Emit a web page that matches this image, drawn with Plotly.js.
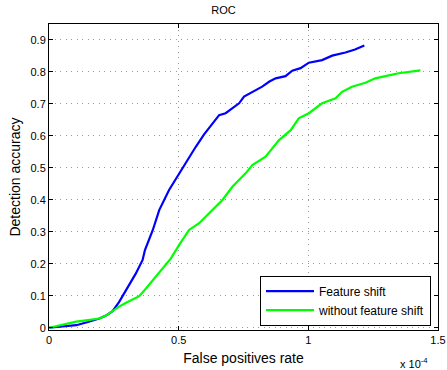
<!DOCTYPE html>
<html><head><meta charset="utf-8">
<script src="https://cdn.plot.ly/plotly-3.0.1.min.js"></script>
<style>html,body{margin:0;padding:0;background:#fff}#plot{width:447px;height:370px}</style>
</head><body><div id="plot"></div>
<script>
// False positives rate in units of 1e-4
const featureShiftFpr = [0, 0.05, 0.105, 0.15, 0.194, 0.22, 0.245, 0.27, 0.297, 0.315, 0.335, 0.361, 0.37, 0.40, 0.425, 0.463, 0.502, 0.540, 0.566, 0.598, 0.630, 0.656, 0.681, 0.707, 0.733, 0.752, 0.790, 0.822, 0.850, 0.874, 0.912, 0.938, 0.970, 1.002, 1.053, 1.092, 1.143, 1.180, 1.216];
const featureShiftTpr = [0, 0.004, 0.008, 0.018, 0.029, 0.038, 0.052, 0.080, 0.118, 0.142, 0.170, 0.212, 0.243, 0.305, 0.368, 0.431, 0.483, 0.535, 0.566, 0.605, 0.639, 0.665, 0.671, 0.686, 0.702, 0.723, 0.740, 0.754, 0.770, 0.780, 0.787, 0.804, 0.812, 0.829, 0.837, 0.851, 0.861, 0.870, 0.883];
const noShiftFpr = [0, 0.05, 0.105, 0.15, 0.194, 0.22, 0.245, 0.27, 0.297, 0.325, 0.348, 0.374, 0.412, 0.451, 0.47, 0.502, 0.540, 0.579, 0.630, 0.668, 0.707, 0.758, 0.784, 0.835, 0.887, 0.932, 0.963, 1.002, 1.053, 1.105, 1.130, 1.168, 1.220, 1.258, 1.297, 1.348, 1.432];
const noShiftTpr = [0, 0.010, 0.019, 0.024, 0.029, 0.038, 0.052, 0.066, 0.078, 0.090, 0.099, 0.123, 0.160, 0.196, 0.217, 0.259, 0.306, 0.327, 0.368, 0.399, 0.441, 0.483, 0.509, 0.535, 0.587, 0.618, 0.655, 0.671, 0.702, 0.718, 0.738, 0.754, 0.766, 0.780, 0.787, 0.796, 0.805];
const seriesNames = ["Feature shift", "without feature shift"];
const xTickVals = [0, 0.5, 1, 1.5];
const xTickText = ["0", "0.5", "1", "1.5"];
const yTickVals = [0, 0.1, 0.2, 0.3, 0.4, 0.5, 0.6, 0.7, 0.8, 0.9];
const yTickText = ["0", "0.1", "0.2", "0.3", "0.4", "0.5", "0.6", "0.7", "0.8", "0.9"];

const font = "Liberation Sans, Arial, Helvetica, sans-serif";
const traces = [
  {x: featureShiftFpr, y: featureShiftTpr, name: seriesNames[0], mode: "lines", line: {color: "#0000ff", width: 2.2}},
  {x: noShiftFpr, y: noShiftTpr, name: seriesNames[1], mode: "lines", line: {color: "#00ff00", width: 2.2}}
];
const axisCommon = {
  showline: true, linecolor: "#000", linewidth: 1, mirror: "ticks",
  ticks: "inside", ticklen: 4, tickcolor: "#000",
  showgrid: true, gridcolor: "#999", griddash: "1px,4.5px", gridwidth: 1,
  zeroline: false, tickfont: {family: font, size: 11, color: "#000"}
};
const layout = {
  width: 447, height: 370,
  margin: {l: 49, r: 9, t: 24, b: 40},
  paper_bgcolor: "#fff", plot_bgcolor: "#fff",
  font: {family: font, color: "#000"},
  title: {text: "ROC", font: {family: font, size: 11, color: "#000"}, x: 0.5, xanchor: "center", y: 0.972, yanchor: "middle"},
  xaxis: Object.assign({}, axisCommon, {range: [0, 1.5], tickvals: xTickVals, ticktext: xTickText,
    title: {text: "False positives rate", font: {family: font, size: 14, color: "#000"}, standoff: 7}}),
  yaxis: Object.assign({}, axisCommon, {range: [-0.007, 0.95], tickvals: yTickVals, ticktext: yTickText,
    title: {text: "Detection accuracy", font: {family: font, size: 14, color: "#000"}, standoff: 6}}),
  showlegend: true,
  legend: {x: 0.982, y: 0.178, xanchor: "right", yanchor: "top", bgcolor: "#fff", itemwidth: 48,
    bordercolor: "#000", borderwidth: 1, font: {family: font, size: 12, color: "#000"}, tracegroupgap: 0},
  annotations: [{xref: "paper", yref: "paper", x: 0.979, y: -0.138, xanchor: "right", yanchor: "bottom", showarrow: false,
    text: "x 10<sup>-4</sup>", font: {family: font, size: 11, color: "#000"}}]
};
Plotly.newPlot("plot", traces, layout, {displayModeBar: false, staticPlot: true});
</script></body></html>
